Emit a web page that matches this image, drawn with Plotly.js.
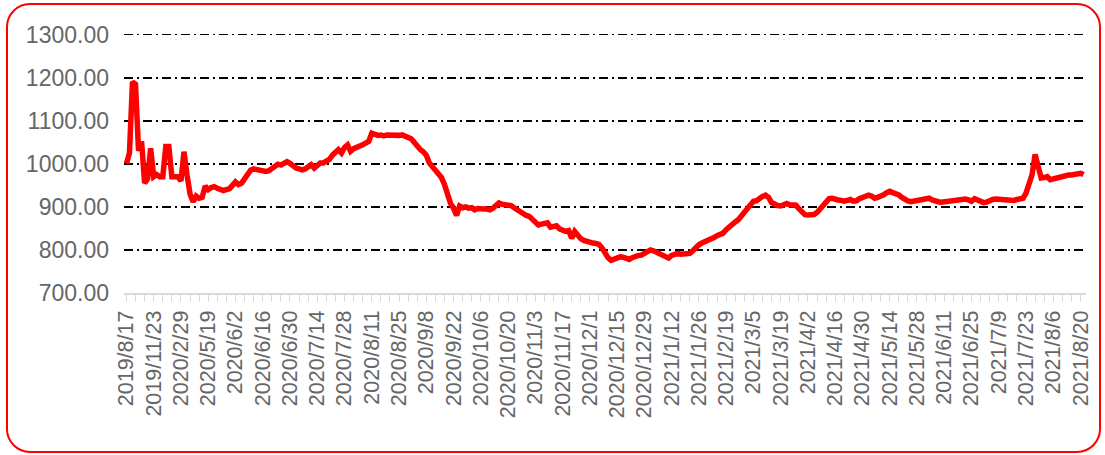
<!DOCTYPE html>
<html>
<head>
<meta charset="utf-8">
<script src="https://cdn.plot.ly/plotly-3.0.1.min.js"></script>
<style>
  html, body { margin: 0; padding: 0; background: #ffffff; }
  #wrap { position: relative; width: 1105px; height: 455px; overflow: hidden; }
  #chart { position: absolute; left: 0; top: 0; width: 1105px; height: 455px; }
  #frame { position: absolute; left: 6px; top: 3px; width: 1091px; height: 446px;
           border: 2px solid #ff0000; border-radius: 24px; pointer-events: none; }
</style>
</head>
<body>
<div id="wrap">
  <div id="chart"></div>
  <div id="frame"></div>
</div>
<script>
// Tick labels (one every 9 data points)
const tickLabels = [
  "2019/8/17","2019/11/23","2020/2/29","2020/5/19","2020/6/2","2020/6/16",
  "2020/6/30","2020/7/14","2020/7/28","2020/8/11","2020/8/25","2020/9/8",
  "2020/9/22","2020/10/6","2020/10/20","2020/11/3","2020/11/17","2020/12/1",
  "2020/12/15","2020/12/29","2021/1/12","2021/1/26","2021/2/19","2021/3/5",
  "2021/3/19","2021/4/2","2021/4/16","2021/4/30","2021/5/14","2021/5/28",
  "2021/6/11","2021/6/25","2021/7/9","2021/7/23","2021/8/6","2021/8/20"
];
const pointsPerLabel = 9;
const yTicks = [700, 800, 900, 1000, 1100, 1200, 1300];

// Series values
const price2019 = [
  1000,1025,1190,1185,1030,1052,955,965,1036,970,
  975,970,970,1040,1040,970,970,970,960,1028,975
];
const price2020a = [
  930,912,925,920,922,948,940,945,947,943,
  940,938,940,942,950,958,952,955,965,975,
  985,988,986,985,984,982,984,988,995,999,
  997,1003,1005,1001,995,990,988,986,988,992,
  998,990,995,1002,1002,1005,1010,1020,1028,1033,
  1025,1038,1044,1029,1035,1037,1040,1044,1048,1052,
  1071,1068,1066,1067,1065,1067,1066,1068,1065,1066,
  1067,1065,1063,1058,1050,1040,1033,1028,1020,1002
];
const price2020b = [
  993,985,976,968,952,925,908,897,880,902,
  898,900,897,898,893,896,897,895,895,893,
  897,902,909,906,905,901,903,898,893,888,
  882,880,878,872,866,858,860,861,863,853,
  856,856,849,845,843,845,827,843,834,826,
  822,819,818,816,815,813,805,792,782,776,
  779,782,784,783,781,778,782,786,787,788,
  791,795,800,798,795,792,789,786,781,787
];
const price2021 = [
  790,792,790,791,793,792,798,806,812,816,
  819,821,823,829,833,835,839,847,854,860,
  865,870,879,886,894,906,913,914,920,924,
  927,922,910,906,903,902,906,908,905,906,
  904,896,887,882,881,880,882,887,894,905,
  912,919,920,917,916,915,913,915,917,913,
  914,919,922,924,927,925,920,922,924,928,
  933,936,933,932,928,922,917,914,912,913,
  914,915,916,918,920,916,913,912,911,912,
  912,913,914,915,916,917,918,916,913,919,
  916,912,910,911,915,917,918,917,916,916,
  915,914,915,917,918,920,932,960,975,1022,
  990,967,968,970,963,965,968,970,971,973,
  974,974,975,977,978,975
];

const price = price2019.concat(price2020a, price2020b, price2021);
const xIdx = price.map((_, i) => i);
const tickVals = tickLabels.map((_, i) => i * pointsPerLabel);

const trace = {
  x: xIdx,
  y: price,
  type: 'scatter',
  mode: 'lines',
  line: { color: '#ff0000', width: 5.5 },
  hoverinfo: 'skip'
};

const gridDash = '9px,4px,2px,4px';

const layout = {
  width: 1105,
  height: 455,
  margin: { l: 124, r: 19, t: 32, b: 162 },
  paper_bgcolor: 'rgba(0,0,0,0)',
  plot_bgcolor: '#ffffff',
  showlegend: false,
  font: { family: 'Liberation Sans, Arial, sans-serif', color: '#595959' },
  xaxis: {
    range: [-0.8, price.length - 0.2],
    tickmode: 'array',
    tickvals: tickVals,
    ticktext: tickLabels,
    tickangle: -90,
    tickfont: { size: 21.5, color: '#666666' },
    ticks: 'outside',
    ticklen: 7,
    tickwidth: 1,
    tickcolor: '#d9d9d9',
    minor: { tickmode: 'linear', tick0: 0, dtick: 3, ticks: 'outside', ticklen: 7, tickwidth: 1, tickcolor: '#d9d9d9', showgrid: false },
    showgrid: false,
    zeroline: false,
    showline: true,
    linecolor: '#d9d9d9',
    linewidth: 2,
    fixedrange: true
  },
  yaxis: {
    range: [yTicks[0], yTicks[yTicks.length - 1] + 6],
    tickmode: 'array',
    tickvals: yTicks,
    tickformat: '.2f',
    tickfont: { size: 23, color: '#666666' },
    ticklabelstandoff: 14,
    showgrid: true,
    gridcolor: '#000000',
    gridwidth: 1.8,
    griddash: gridDash,
    zeroline: false,
    showline: false,
    ticks: '',
    fixedrange: true
  }
};

Plotly.newPlot('chart', [trace], layout, { staticPlot: true, displayModeBar: false });
</script>
</body>
</html>
